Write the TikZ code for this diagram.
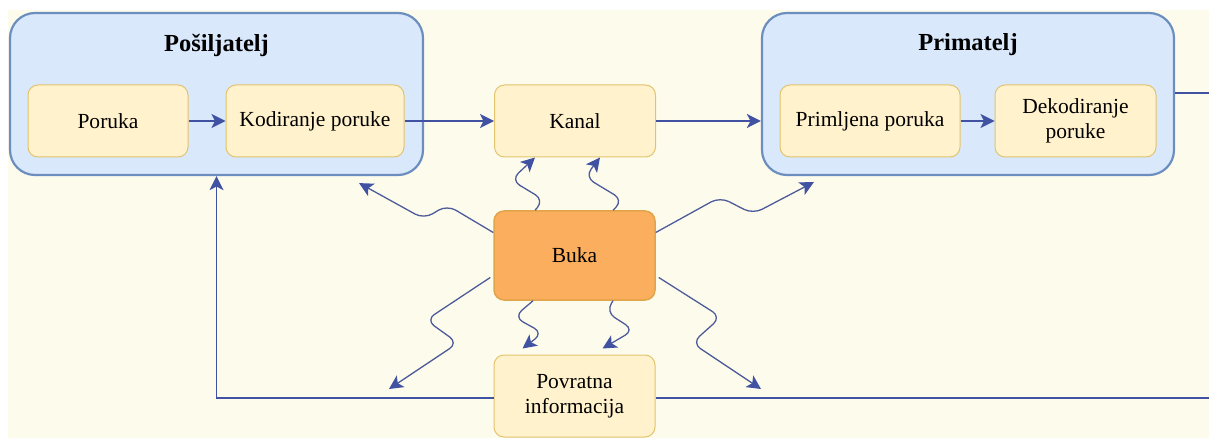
\documentclass[tikz,border=0pt]{standalone}
\usepackage{fontspec}
\setmainfont{Liberation Serif}
\usetikzlibrary{arrows.meta,calc}
\definecolor{bg}{HTML}{FDFCEC}
\definecolor{bluefill}{HTML}{DAE8FC}
\definecolor{blueline}{HTML}{6C8EBF}
\definecolor{yfill}{HTML}{FFF2CC}
\definecolor{yline}{HTML}{E2C46E}
\definecolor{ofill}{HTML}{FAAE5E}
\definecolor{oline}{HTML}{E0A54A}
\definecolor{arr}{HTML}{4152A2}
\tikzset{
  grp/.style={draw=blueline, fill=bluefill, line width=2.2pt, rounded corners=25pt},
  ybox/.style={draw=yline, fill=yfill, line width=1pt, rounded corners=10pt, align=center,
    font=\fontsize{21.5}{25}\selectfont, inner sep=2pt},
  obox/.style={draw=oline, fill=ofill, line width=1.5pt, rounded corners=10pt,
    font=\fontsize{21.5}{25}\selectfont},
  ttl/.style={font=\bfseries\fontsize{24.5}{28}\selectfont},
  conn/.style={draw=arr, line width=1.5pt, -{Stealth[length=14pt,width=14pt,inset=3.5pt]}},
  plain/.style={draw=arr, line width=1.5pt},
  wave/.style={draw=arr!80!gray, line width=1.3pt, rounded corners=10pt, -{Stealth[length=14pt,width=14pt,inset=3.5pt,color=arr]}}
}
\begin{document}
\begin{tikzpicture}[x=1pt,y=-1pt]
\useasboundingbox (0,0) rectangle (1209,438);
\fill[white] (0,0) rectangle (1209,438);
\fill[bg] (8,10) rectangle (1209,438);

% groups
\node[grp, minimum width=413pt, minimum height=162pt] (pos) at (216.5,94) {};
\node[ttl] (posT) at (216.5,45) {Pošiljatelj};
\node[grp, minimum width=412pt, minimum height=162pt] (prim) at (968,94) {};
\node[ttl] (primT) at (968,45) {Primatelj};

% boxes
\node[ybox, minimum width=160pt, minimum height=72pt] (poruka) at (108,121) {Poruka};
\node[ybox, minimum width=178pt, minimum height=72pt] (kod) at (315,121) {Kodiranje poruke};
\node[ybox, minimum width=161pt, minimum height=72pt] (kanal) at (575,121) {Kanal};
\node[ybox, minimum width=180pt, minimum height=72pt] (prp) at (870,121) {Primljena poruka};
\node[ybox, minimum width=161pt, minimum height=72pt] (dek) at (1075.5,121) {Dekodiranje\\poruke};
\node[obox, minimum width=161pt, minimum height=89pt] (buka) at (574.5,255.5) {Buka};
\node[ybox, minimum width=161pt, minimum height=82pt] (pov) at (574.5,396) {Povratna\\informacija};

% straight connectors
\draw[conn] (poruka) -- (kod);
\draw[conn] (kod) -- (kanal);
\draw[conn] (kanal) -- (prim.west |- kanal.east);
\draw[conn] (prp) -- (dek);

% feedback loop
\coordinate (fbL) at (216.5,398);
\coordinate (fbR) at (1210,398);
\coordinate (fbT) at (1210,93);
\draw[conn] ([yshift=-2pt]pov.west) -- (fbL) -- (fbL |- pos.south);
\draw[plain] ([yshift=-2pt]pov.east) -- (fbR);
\draw[plain] (prim.east |- fbT) -- (fbT);

% noise arrows
\draw[wave] ($(buka.north)+(-39.5,0)$) -- (544,200) -- (511,180) -- ($(kanal.south)+(-40,0)$);
\draw[wave] ($(buka.north)+(38.5,0)$) -- (623,200) -- (585,177) -- ($(kanal.south)+(25,0)$);
\draw[wave] ($(buka.west)+(0,-23)$) -- (447,205) -- (424,219) -- ($(pos.south east)+(-65,7)$);
\draw[wave] ($(buka.east)+(0,-23)$) -- (720,197) -- (753,214) -- ($(prim.south west)+(53,6)$);
\coordinate (dl) at (389,389);
\coordinate (dr) at (761,389);
\draw[wave] ($(buka.west)+(-3,22)$) -- (426,320) -- (458,343) -- (dl);
\draw[wave] ($(buka.south)+(-41.5,0)$) -- (514,317) -- (543,333) -- ($(pov.north)+(-52,-6)$);
\draw[wave] ($(buka.south)+(38.5,0)$) -- (606,312) -- (634,330) -- ($(pov.north)+(28,-6)$);
\draw[wave] ($(buka.east)+(3,22)$) -- (721,317) -- (692,343) -- (dr);
\end{tikzpicture}
\end{document}
